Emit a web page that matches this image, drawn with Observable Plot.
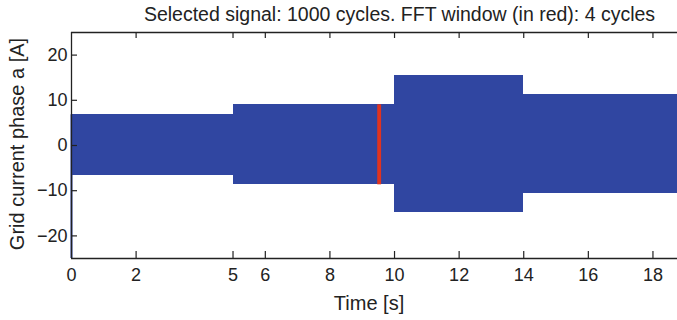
<!DOCTYPE html>
<html><head><meta charset="utf-8">
<script src="https://cdn.jsdelivr.net/npm/d3@7"></script>
<script src="https://cdn.jsdelivr.net/npm/@observablehq/plot@0.6"></script>
<style>body{margin:0;background:#fff;} svg{display:block}</style>
</head><body><div id="chart"></div>
<script>
// Signal envelope segments (time in s, current in A)
const segStart = [0, 5, 10, 14];
const segEnd   = [5, 10, 14, 18.76];
const segUpper = [6.8, 9.0, 15.4, 11.2];
const segLower = [-6.6, -8.7, -14.9, -10.7];
// initial transient at t=0
const transientT = [0];
const transientMin = [-25];
const transientMax = [6.8];
// FFT window (4 cycles)
const fftStart = [9.48];
const fftEnd = [9.60];
const fftLow = [-8.7];
const fftHigh = [9.0];
// ticks
const xTicks = [0, 2, 5, 6, 8, 10, 12, 14, 16, 18];
const yTicks = [-20, -10, 0, 10, 20];

const segments = segStart.map((s, i) => ({x1: s, x2: segEnd[i], y1: segLower[i], y2: segUpper[i]}));
const transient = transientT.map((t, i) => ({x: t, y1: transientMin[i], y2: transientMax[i]}));
const fft = fftStart.map((s, i) => ({x1: s, x2: fftEnd[i], y1: fftLow[i], y2: fftHigh[i]}));

const W = 677, H = 320, mL = 71, mR = 0, mT = 32, mB = 62;
const fw = W - mL - mR, fh = H - mT - mB;
const blue = "#3046a1", red = "#e0331f", ink = "#222";
const font = "'Liberation Sans', Arial, Helvetica, sans-serif";

const chart = Plot.plot({
  width: W, height: H,
  marginLeft: mL, marginRight: mR, marginTop: mT, marginBottom: mB,
  style: {fontFamily: font, color: ink, background: "#fff", overflow: "visible"},
  x: {domain: [0, 18.76], axis: null},
  y: {domain: [-25, 25], axis: null},
  marks: [
    Plot.rect(segments, {x1: "x1", x2: "x2", y1: "y1", y2: "y2", fill: blue, shapeRendering: "crispEdges"}),
    Plot.ruleX(transient, {x: "x", y1: "y1", y2: "y2", stroke: blue, strokeWidth: 2}),
    Plot.rect(fft, {x1: "x1", x2: "x2", y1: "y1", y2: "y2", fill: red}),
    // box lines
    Plot.ruleY([-25, 25], {stroke: ink, strokeWidth: 1.4}),
    Plot.ruleX([0], {stroke: ink, strokeWidth: 1.3}),
    // inward ticks
    Plot.ruleX(xTicks.filter(d => d > 0), {x: d => d, insetTop: fh - 7, stroke: ink, strokeWidth: 1.2}),
    Plot.ruleX(xTicks.filter(d => d > 0), {x: d => d, insetBottom: fh - 6, stroke: ink, strokeWidth: 1.2}),
    Plot.ruleY(yTicks, {y: d => d, insetRight: fw - 6, stroke: ink, strokeWidth: 1.2}),
    // tick labels
    Plot.axisX(xTicks, {anchor: "bottom", tickSize: 0, tickPadding: 10, fontSize: 18, label: null, fill: ink}),
    Plot.axisY(yTicks, {anchor: "left", tickSize: 0, tickPadding: 4, fontSize: 18, label: null, fill: ink}),
    // labels and title
    Plot.text(["Time [s]"], {frameAnchor: "bottom", lineAnchor: "top", dy: 37, dx: -5.5, fontSize: 20, fill: ink}),
    Plot.text(["Grid current phase a [A]"], {frameAnchor: "left", textAnchor: "middle", lineAnchor: "middle", rotate: -90, dx: -54, dy: -1.5, fontSize: 20, fill: ink}),
    Plot.text(["Selected signal: 1000 cycles. FFT window (in red): 4 cycles"], {frameAnchor: "top", lineAnchor: "top", dy: -25, dx: 25, fontSize: 19.5, fill: ink})
  ]
});
document.getElementById("chart").appendChild(chart);
</script>
</body></html>
